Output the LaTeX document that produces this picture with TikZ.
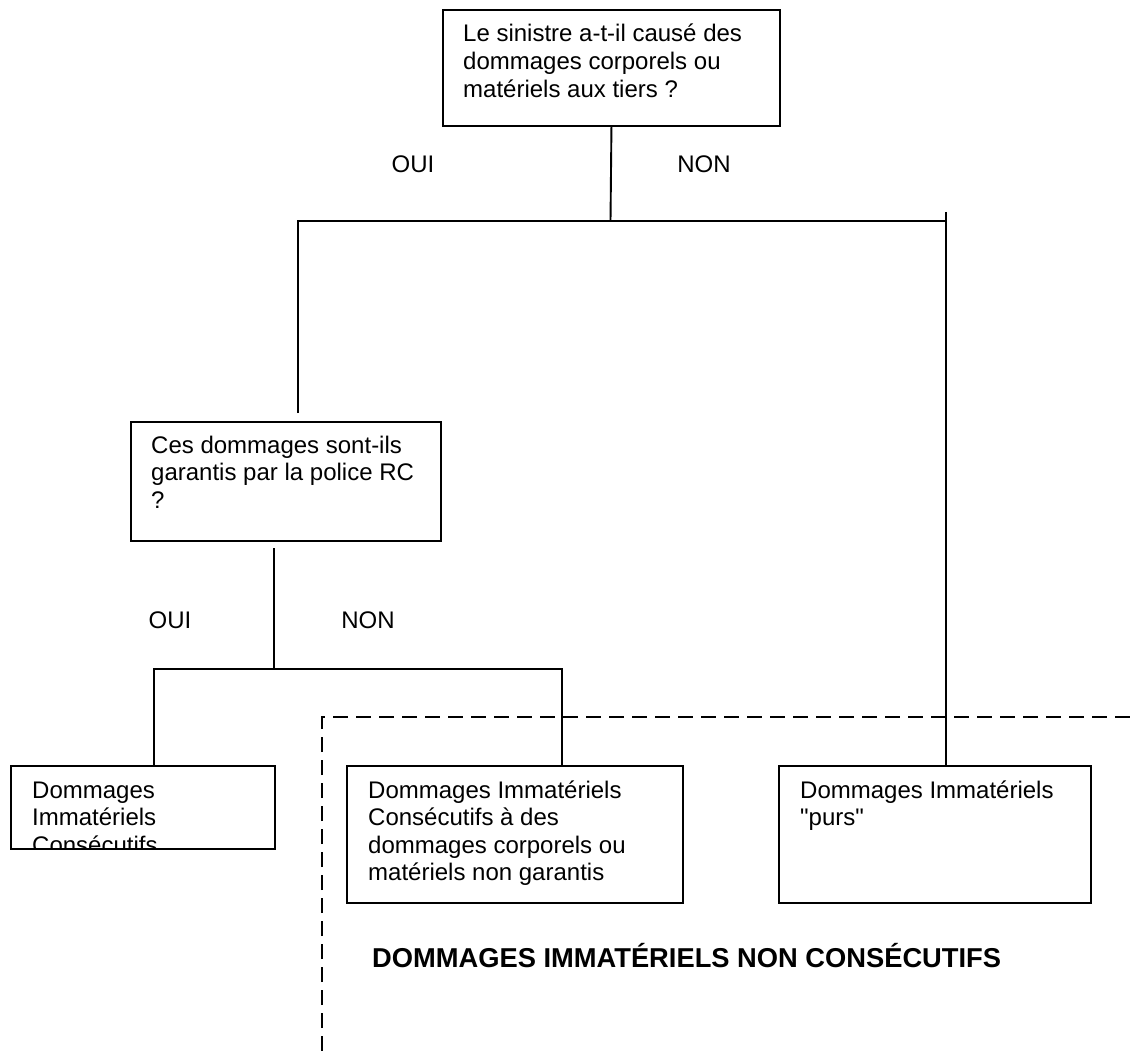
\documentclass[tikz,border=0pt]{standalone}
\usepackage{fontspec}
\setmainfont{Liberation Sans}
\newfontfamily\plainsans{Liberation Sans}
\begin{document}
\begin{tikzpicture}[x=1pt,y=-1pt,
  box/.style={draw=black, line width=1.9pt, anchor=north west, inner sep=0pt, minimum width=#1},
  txt/.style={anchor=base west, inner sep=0pt, font=\fontsize{24}{27.6}\selectfont},
  lab/.style={anchor=base, inner sep=0pt, font=\fontsize{24}{27.6}\selectfont},
  conn/.style={line width=1.9pt},
  dashline/.style={line width=1.9pt, dash pattern=on 15pt off 8pt}]
\useasboundingbox (0,0) rectangle (1135,1051);
% boxes
\node[box=337pt, minimum height=116pt] (q1) at (442,9) {};
\node[box=310pt, minimum height=119pt] (q2) at (130,421) {};
\node[box=264pt, minimum height=83pt] (r1) at (10,765) {};
\node[box=336pt, minimum height=137pt] (r2) at (346,765) {};
\node[box=312pt, minimum height=137pt] (r3) at (778,765) {};
% texts
\node[txt] (q1t) at (463,42) {\begin{tabular}[t]{@{}l@{}}Le sinistre a-t-il causé des\\dommages corporels ou\\matériels aux tiers ?\end{tabular}};
\node[txt] (q2t) at (151,453) {\begin{tabular}[t]{@{}l@{}}Ces dommages sont-ils\\garantis par la police RC\\?\end{tabular}};
\begin{scope}
\clip ([xshift=1pt,yshift=1pt]r1.south west) rectangle ([xshift=-1pt,yshift=-1pt]r1.north east);
\node[txt] (r1t) at (32,798) {\begin{tabular}[t]{@{}l@{}}Dommages\\Immatériels\\Consécutifs\end{tabular}};
\end{scope}
\node[txt] (r2t) at (368,798) {\begin{tabular}[t]{@{}l@{}}Dommages Immatériels\\Consécutifs à des\\dommages corporels ou\\matériels non garantis\end{tabular}};
\node[txt] (r3t) at (800,798) {\begin{tabular}[t]{@{}l@{}}Dommages Immatériels\\{\plainsans"purs"}\end{tabular}};
% labels
\node[lab] (oui1) at (413,173) {OUI};
\node[lab] (non1) at (704,173) {NON};
\node[lab] (oui2) at (170,628) {OUI};
\node[lab] (non2) at (368,628) {NON};
\node[anchor=base west, inner sep=0pt, font=\fontsize{27.3}{30}\selectfont\bfseries] (title) at (372,967) {DOMMAGES IMMATÉRIELS NON CONSÉCUTIFS};
% connector coordinates
\coordinate (a1) at (610.5,221);
\coordinate (a2) at (298,221);
\coordinate (a3) at (946,221);
\coordinate (a3t) at (946,212);
\coordinate (a2b) at (298,413);
\coordinate (b0) at (274,548);
\coordinate (b1) at (274,669);
\coordinate (b2) at (154,669);
\coordinate (b3) at (562,669);
\coordinate (d1) at (322,1051);
\coordinate (d2) at (322,717);
\coordinate (d3) at (1135,717);
% connectors
\draw[conn] (q1.south) -- (a1);
\draw[conn] (a2b) -- (a2) -- (a3);
\draw[conn] (a3t) -- (a3t |- r3.north);
\draw[conn] (b0) -- (b1);
\draw[conn] (b2 |- r1.north) -- (b2) -- (b3) -- (b3 |- r2.north);
\draw[dashline] (d1) -- (d2) -- (d3);
\end{tikzpicture}
\end{document}
